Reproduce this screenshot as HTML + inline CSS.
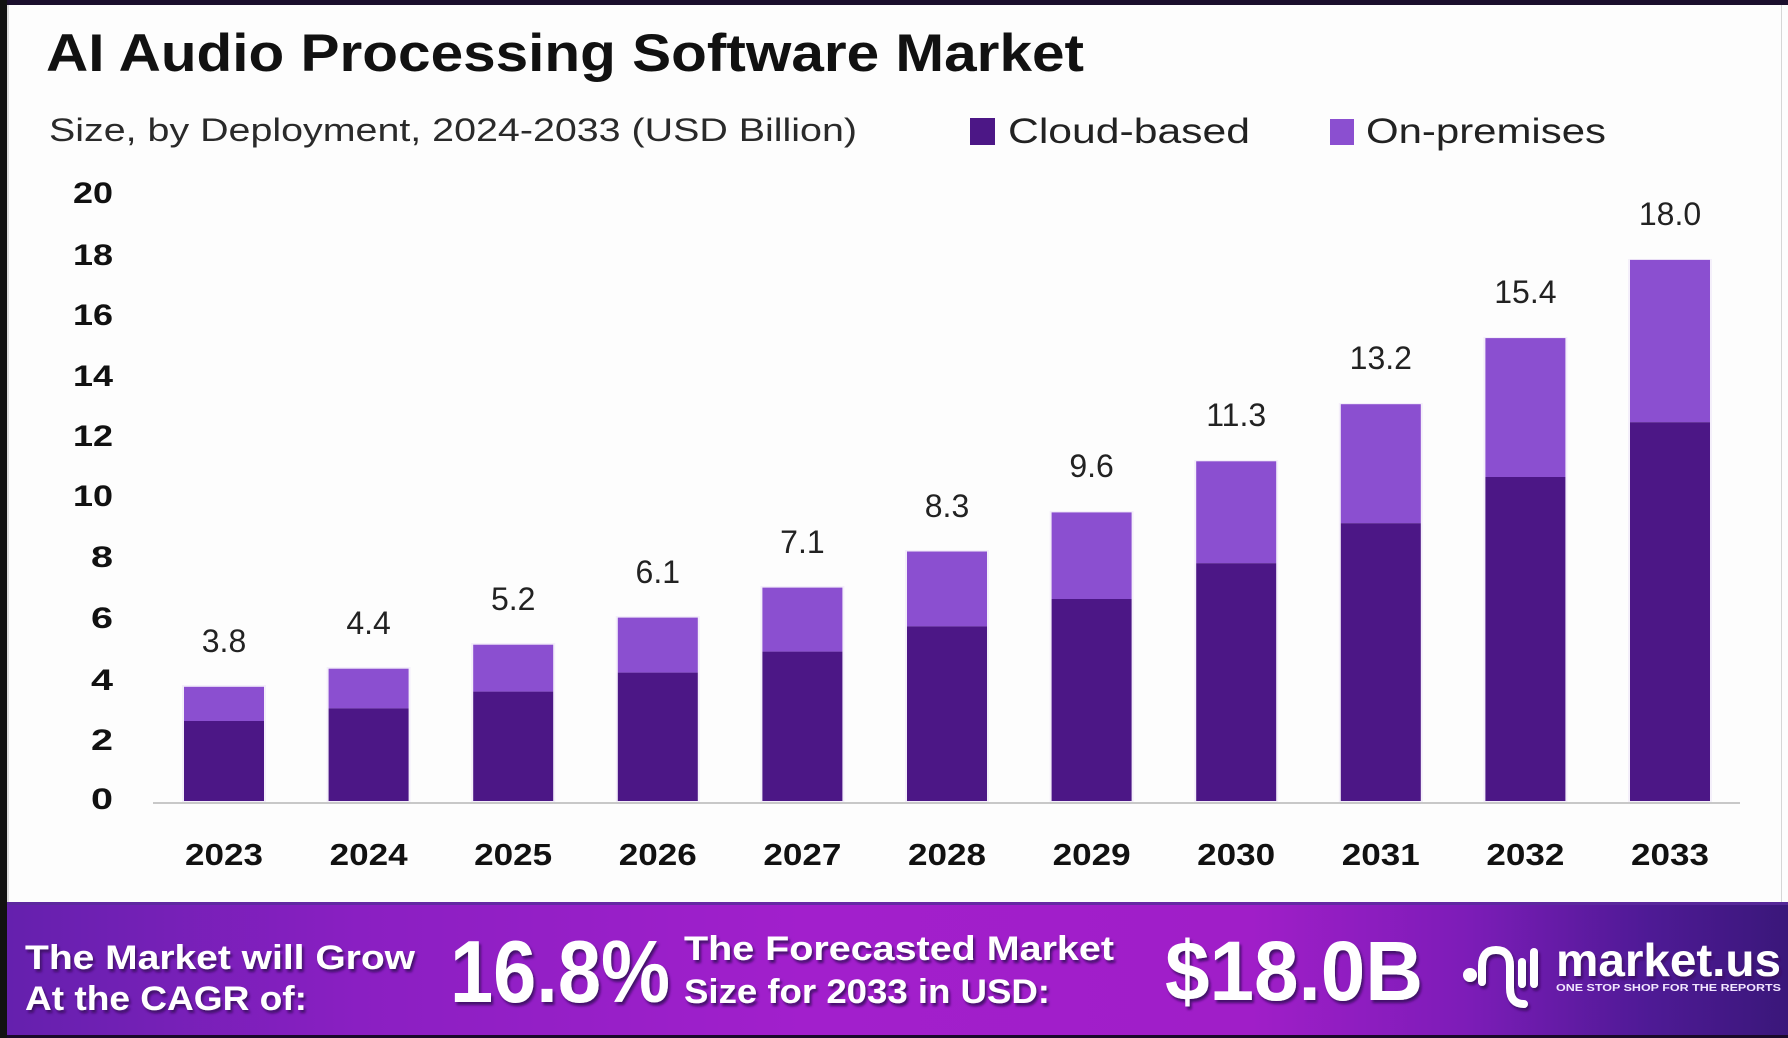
<!DOCTYPE html>
<html>
<head>
<meta charset="utf-8">
<style>
  html,body{margin:0;padding:0;background:#fff;}
  body{width:1788px;height:1038px;overflow:hidden;}
  svg{display:block;}
  text{font-family:"Liberation Sans", sans-serif;}
</style>
</head>
<body>
<svg width="1788" height="1038" viewBox="0 0 1788 1038" xmlns="http://www.w3.org/2000/svg">
  <defs>
    <linearGradient id="ban" x1="0" y1="0" x2="1" y2="0">
      <stop offset="0" stop-color="#6420ad"/>
      <stop offset="0.2" stop-color="#8a1fc2"/>
      <stop offset="0.45" stop-color="#a21fcc"/>
      <stop offset="0.7" stop-color="#a01ec8"/>
      <stop offset="0.82" stop-color="#7d1cb8"/>
      <stop offset="0.92" stop-color="#4f1a96"/>
      <stop offset="1" stop-color="#3a177a"/>
    </linearGradient>
    <filter id="sh" x="-10%" y="-30%" width="130%" height="170%">
      <feDropShadow dx="2" dy="3" stdDeviation="1.2" flood-color="#3a0862" flood-opacity="0.9"/>
    </filter>
  </defs>

  <!-- background -->
  <rect x="0" y="0" width="1788" height="1038" fill="#fdfdfd"/>

  <!-- title -->
  <text x="46" y="71" font-size="53" font-weight="bold" fill="#111" textLength="1038" lengthAdjust="spacingAndGlyphs">AI Audio Processing Software Market</text>
  <text x="49" y="141" font-size="32" fill="#2a2a2a" textLength="808" lengthAdjust="spacingAndGlyphs">Size, by Deployment, 2024-2033 (USD Billion)</text>

  <!-- legend -->
  <rect x="970" y="118" width="25" height="27" fill="#4c1786"/>
  <text x="1008" y="143" font-size="35" fill="#222" textLength="242" lengthAdjust="spacingAndGlyphs">Cloud-based</text>
  <rect x="1330" y="119" width="24" height="26" fill="#8b4fd0"/>
  <text x="1366" y="143" font-size="35" fill="#222" textLength="240" lengthAdjust="spacingAndGlyphs">On-premises</text>

  <!-- y tick labels -->
  <g font-size="30" font-weight="bold" fill="#111" text-anchor="end">
    <text x="113" y="203" textLength="40" lengthAdjust="spacingAndGlyphs">20</text>
    <text x="113" y="265" textLength="40" lengthAdjust="spacingAndGlyphs">18</text>
    <text x="113" y="325" textLength="40" lengthAdjust="spacingAndGlyphs">16</text>
    <text x="113" y="386" textLength="40" lengthAdjust="spacingAndGlyphs">14</text>
    <text x="113" y="446" textLength="40" lengthAdjust="spacingAndGlyphs">12</text>
    <text x="113" y="506" textLength="40" lengthAdjust="spacingAndGlyphs">10</text>
    <text x="113" y="567" textLength="22" lengthAdjust="spacingAndGlyphs">8</text>
    <text x="113" y="628" textLength="22" lengthAdjust="spacingAndGlyphs">6</text>
    <text x="113" y="690" textLength="22" lengthAdjust="spacingAndGlyphs">4</text>
    <text x="113" y="750" textLength="22" lengthAdjust="spacingAndGlyphs">2</text>
    <text x="113" y="809" textLength="22" lengthAdjust="spacingAndGlyphs">0</text>
  </g>

  <!-- axis line -->
  <rect x="153" y="802" width="1587" height="2" fill="#c8c8c8"/>

  <!-- bars: glow -->
  <g fill="#efe6f9" opacity="0.6">
    <rect x="182" y="685" width="84" height="117"/>
    <rect x="326.6" y="667" width="84" height="135"/>
    <rect x="471.2" y="643" width="84" height="159"/>
    <rect x="615.8" y="616" width="84" height="186"/>
    <rect x="760.4" y="586" width="84" height="216"/>
    <rect x="905" y="550" width="84" height="252"/>
    <rect x="1049.6" y="511" width="84" height="291"/>
    <rect x="1194.2" y="460" width="84" height="342"/>
    <rect x="1338.8" y="403" width="84" height="399"/>
    <rect x="1483.4" y="337" width="84" height="465"/>
    <rect x="1628" y="259" width="84" height="543"/>
  </g>

  <!-- on-premises (top segments) -->
  <g fill="#8b4fd0">
    <rect x="184" y="686.8" width="80" height="34.2"/>
    <rect x="328.6" y="668.7" width="80" height="39.7"/>
    <rect x="473.2" y="644.7" width="80" height="46.9"/>
    <rect x="617.8" y="617.6" width="80" height="55"/>
    <rect x="762.4" y="587.6" width="80" height="64"/>
    <rect x="907" y="551.5" width="80" height="74.9"/>
    <rect x="1051.6" y="512.4" width="80" height="86.6"/>
    <rect x="1196.2" y="461.3" width="80" height="101.9"/>
    <rect x="1340.8" y="404.2" width="80" height="119"/>
    <rect x="1485.4" y="338.1" width="80" height="138.9"/>
    <rect x="1630" y="259.9" width="80" height="162.3"/>
  </g>
  <!-- cloud-based (bottom segments) -->
  <g fill="#4c1786">
    <rect x="184" y="721" width="80" height="80"/>
    <rect x="328.6" y="708.4" width="80" height="92.6"/>
    <rect x="473.2" y="691.6" width="80" height="109.4"/>
    <rect x="617.8" y="672.6" width="80" height="128.4"/>
    <rect x="762.4" y="651.6" width="80" height="149.4"/>
    <rect x="907" y="626.4" width="80" height="174.6"/>
    <rect x="1051.6" y="599" width="80" height="202"/>
    <rect x="1196.2" y="563.2" width="80" height="237.8"/>
    <rect x="1340.8" y="523.2" width="80" height="277.8"/>
    <rect x="1485.4" y="477" width="80" height="324"/>
    <rect x="1630" y="422.2" width="80" height="378.8"/>
  </g>

  <!-- value labels -->
  <g font-size="32" fill="#222" text-anchor="middle">
    <text x="224" y="652">3.8</text>
    <text x="368.6" y="634">4.4</text>
    <text x="513.2" y="610">5.2</text>
    <text x="657.8" y="583">6.1</text>
    <text x="802.4" y="553">7.1</text>
    <text x="947" y="517">8.3</text>
    <text x="1091.6" y="477">9.6</text>
    <text x="1236.2" y="426">11.3</text>
    <text x="1380.8" y="369">13.2</text>
    <text x="1525.4" y="303">15.4</text>
    <text x="1670" y="225">18.0</text>
  </g>

  <!-- year labels -->
  <g font-size="31" font-weight="bold" fill="#111" text-anchor="middle">
    <text x="224" y="865" textLength="78" lengthAdjust="spacingAndGlyphs">2023</text>
    <text x="368.6" y="865" textLength="78" lengthAdjust="spacingAndGlyphs">2024</text>
    <text x="513.2" y="865" textLength="78" lengthAdjust="spacingAndGlyphs">2025</text>
    <text x="657.8" y="865" textLength="78" lengthAdjust="spacingAndGlyphs">2026</text>
    <text x="802.4" y="865" textLength="78" lengthAdjust="spacingAndGlyphs">2027</text>
    <text x="947" y="865" textLength="78" lengthAdjust="spacingAndGlyphs">2028</text>
    <text x="1091.6" y="865" textLength="78" lengthAdjust="spacingAndGlyphs">2029</text>
    <text x="1236.2" y="865" textLength="78" lengthAdjust="spacingAndGlyphs">2030</text>
    <text x="1380.8" y="865" textLength="78" lengthAdjust="spacingAndGlyphs">2031</text>
    <text x="1525.4" y="865" textLength="78" lengthAdjust="spacingAndGlyphs">2032</text>
    <text x="1670" y="865" textLength="78" lengthAdjust="spacingAndGlyphs">2033</text>
  </g>

  <!-- banner -->
  <rect x="0" y="902" width="1788" height="136" fill="url(#ban)"/>
  <rect x="0" y="902" width="1788" height="3" fill="#5a2a9c" opacity="0.85"/>
  <rect x="0" y="1035" width="1788" height="3" fill="#1a0a2a"/>

  <g font-weight="bold" fill="#fff" filter="url(#sh)">
    <text x="25" y="969" font-size="34" textLength="390" lengthAdjust="spacingAndGlyphs">The Market will Grow</text>
    <text x="25" y="1010" font-size="34" textLength="282" lengthAdjust="spacingAndGlyphs">At the CAGR of:</text>
    <text x="450" y="1002" font-size="88" textLength="220" lengthAdjust="spacingAndGlyphs">16.8%</text>
    <text x="684" y="960" font-size="34" textLength="430" lengthAdjust="spacingAndGlyphs">The Forecasted Market</text>
    <text x="684" y="1003" font-size="34" textLength="366" lengthAdjust="spacingAndGlyphs">Size for 2033 in USD:</text>
    <text x="1165" y="1000" font-size="84" textLength="258" lengthAdjust="spacingAndGlyphs">$18.0B</text>
    <text x="1556" y="976" font-size="46" textLength="225" lengthAdjust="spacingAndGlyphs">market.us</text>
  </g>
  <text x="1556" y="991" font-size="10" font-weight="bold" fill="#f2e6ff" textLength="225" lengthAdjust="spacingAndGlyphs">ONE STOP SHOP FOR THE REPORTS</text>

  <!-- logo icon -->
  <g filter="url(#sh)" stroke="#fff" stroke-width="8" fill="none" stroke-linecap="round">
    <circle cx="1470" cy="975" r="3" fill="#fff"/>
    <path d="M1482 982 L1482 966 Q1482 950 1496 950 Q1510 950 1510 966 L1510 988 Q1510 1004 1524 1004"/>
    <line x1="1522" y1="962" x2="1522" y2="984"/>
    <line x1="1534" y1="952" x2="1534" y2="984"/>
  </g>

  <!-- frame borders -->
  <rect x="0" y="0" width="1788" height="5" fill="#1b0f2d"/>
  <rect x="0" y="0" width="7" height="1038" fill="#121212"/>
  <rect x="7" y="5" width="2" height="897" fill="#dcdcdc"/>
  <rect x="1781" y="5" width="1" height="897" fill="#d6d6d6"/>
</svg>
</body>
</html>
